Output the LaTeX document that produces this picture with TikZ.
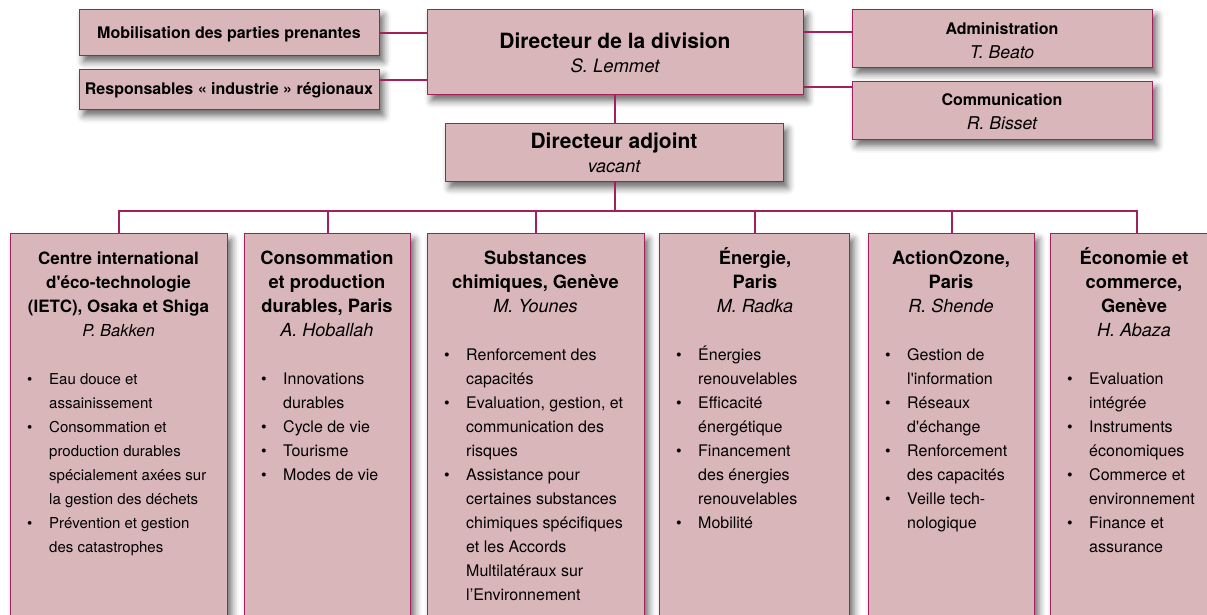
\documentclass[tikz,border=0pt]{standalone}
\usepackage{fontspec}
\setmainfont{TeX Gyre Heros}
\usetikzlibrary{shadows.blur}
\definecolor{boxfill}{HTML}{D9B6BA}
\definecolor{boxline}{HTML}{A3215A}
\tikzset{
  orgbox/.style={draw=boxline, line width=1.2pt, fill=boxfill, inner sep=0pt, anchor=north west,
    blur shadow={shadow xshift=4pt, shadow yshift=-6pt, shadow blur radius=7pt, shadow opacity=60}},
  conn/.style={draw=boxline, line width=2pt},
  txt/.style={inner sep=0pt, anchor=north},
  lst/.style={inner sep=0pt, anchor=north west},
  one/.style={inner sep=0pt, anchor=base},
}
\newcommand{\ttl}[1]{\fontsize{#1}{24}\selectfont}
\begin{document}
\begin{tikzpicture}[x=1pt,y=-1pt]
\useasboundingbox (0,0) rectangle (1207,615);
\begin{scope}
\clip (0,0) rectangle (1207,615);

% top boxes
\node[orgbox, minimum width=300pt, minimum height=46pt] (mob) at (79,9) {};
\node[orgbox, minimum width=300pt, minimum height=40pt] (resp) at (79,69) {};
\node[orgbox, minimum width=376pt, minimum height=85pt] (dir) at (427,9) {};
\node[orgbox, minimum width=338pt, minimum height=58pt] (adj) at (445,123) {};
\node[orgbox, minimum width=300pt, minimum height=58pt] (adm) at (852,9) {};
\node[orgbox, minimum width=300pt, minimum height=58pt] (com) at (852,81) {};

% bottom boxes
\node[orgbox, minimum width=217pt, minimum height=407pt] (c1) at (10,233) {};
\node[orgbox, minimum width=166pt, minimum height=407pt] (c2) at (244,233) {};
\node[orgbox, minimum width=217pt, minimum height=407pt] (c3) at (427,233) {};
\node[orgbox, minimum width=190pt, minimum height=407pt] (c4) at (659,233) {};
\node[orgbox, minimum width=166pt, minimum height=407pt] (c5) at (868,233) {};
\node[orgbox, minimum width=300pt, minimum height=407pt] (c6) at (1050,233) {};
\end{scope}

% connectors
\coordinate (yR) at (0,80);
\coordinate (yA) at (0,32);
\coordinate (yC) at (0,87);
\coordinate (bus) at (0,211);
\coordinate (c6top) at (1137,233);
\draw[conn] (mob.east) -- (mob.east -| dir.west);
\draw[conn] (resp.east |- yR) -- (dir.west |- yR);
\draw[conn] (dir.east |- yA) -- (adm.west |- yA);
\draw[conn] (dir.east |- yC) -- (com.west |- yC);
\draw[conn] (dir.south -| adj.north) -- (adj.north);
\draw[conn] (adj.south) -- (adj.south |- bus);
\draw[conn] (c1.north) -- (c1.north |- bus) -- (c6top |- bus) -- (c6top);
\draw[conn] (c2.north) -- (c2.north |- bus);
\draw[conn] (c3.north) -- (c3.north |- bus);
\draw[conn] (c4.north) -- (c4.north |- bus);
\draw[conn] (c5.north) -- (c5.north |- bus);

% top texts
\node[one] (mobT) at (229,39) {\fontsize{16}{19}\selectfont\bfseries Mobilisation des parties prenantes};
\node[one] (respT) at (229,95) {\fontsize{16}{19}\selectfont\bfseries Responsables « industrie » régionaux};
\node[txt] (dirT) at (615,31.2) {\ttl{21}\begin{tabular}{@{}c@{}}\bfseries Directeur de la division\\ \fontsize{18.4}{24}\selectfont\itshape S. Lemmet\end{tabular}};
\node[txt] (adjT) at (614,131.2) {\ttl{21}\begin{tabular}{@{}c@{}}\bfseries Directeur adjoint\\ \fontsize{18}{24}\selectfont\itshape vacant\end{tabular}};
\node[txt] (admT) at (1002,17.2) {\ttl{16}\begin{tabular}{@{}c@{}}\bfseries Administration\\ \fontsize{17.6}{24}\selectfont\itshape T. Beato\end{tabular}};
\node[txt] (comT) at (1002,88.2) {\ttl{16}\begin{tabular}{@{}c@{}}\bfseries Communication\\ \fontsize{17.6}{24}\selectfont\itshape R. Bisset\end{tabular}};

% column titles
\node[txt] (c1T) at (118.5,247.2) {\ttl{17}\begin{tabular}{@{}c@{}}\bfseries Centre international\\ \bfseries d\textquotesingle éco-technologie\\ \bfseries (IETC), Osaka et Shiga\\ \fontsize{16.5}{24}\selectfont\itshape P. Bakken\end{tabular}};
\node[txt] (c2T) at (327,247.2) {\ttl{18.3}\begin{tabular}{@{}c@{}}\bfseries Consommation\\ \bfseries et production\\ \bfseries durables, Paris\\ \fontsize{18}{24}\selectfont\itshape A. Hoballah\end{tabular}};
\node[txt] (c3T) at (535.5,247.2) {\ttl{18.3}\begin{tabular}{@{}c@{}}\bfseries Substances\\ \bfseries chimiques, Genève\\ \fontsize{18}{24}\selectfont\itshape M. Younes\end{tabular}};
\node[txt] (c4T) at (755,247.2) {\ttl{18.3}\begin{tabular}{@{}c@{}}\bfseries Énergie,\\ \bfseries Paris\\ \fontsize{18}{24}\selectfont\itshape M. Radka\end{tabular}};
\node[txt] (c5T) at (951,247.2) {\ttl{18.3}\begin{tabular}{@{}c@{}}\bfseries ActionOzone,\\ \bfseries Paris\\ \fontsize{18}{24}\selectfont\itshape R. Shende\end{tabular}};
\node[txt] (c6T) at (1134,247.2) {\ttl{18.3}\begin{tabular}{@{}c@{}}\bfseries Économie et\\ \bfseries commerce,\\ \bfseries Genève\\ \fontsize{18}{24}\selectfont\itshape H. Abaza\end{tabular}};

% bullet lists
\node[lst] (c1L) at (27,367.2) {\ttl{15}\begin{tabular}{@{}p{22pt}@{}l@{}}
\textbullet & Eau douce et\\ & assainissement\\
\textbullet & Consommation et\\ & production durables\\ & spécialement axées sur\\ & la gestion des déchets\\
\textbullet & Prévention et gestion\\ & des catastrophes\end{tabular}};
\node[lst] (c2L) at (261,367.2) {\ttl{16}\begin{tabular}{@{}p{22pt}@{}l@{}}
\textbullet & Innovations\\ & durables\\
\textbullet & Cycle de vie\\
\textbullet & Tourisme\\
\textbullet & Modes de vie\end{tabular}};
\node[lst] (c3L) at (444,343.2) {\ttl{16}\begin{tabular}{@{}p{22pt}@{}l@{}}
\textbullet & Renforcement des\\ & capacités\\
\textbullet & Evaluation, gestion, et\\ & communication des\\ & risques\\
\textbullet & Assistance pour\\ & certaines substances\\ & chimiques spécifiques\\ & et les Accords\\ & Multilatéraux sur\\ & l’Environnement\end{tabular}};
\node[lst] (c4L) at (676,343.2) {\ttl{16}\begin{tabular}{@{}p{22pt}@{}l@{}}
\textbullet & Énergies\\ & renouvelables\\
\textbullet & Efficacité\\ & énergétique\\
\textbullet & Financement\\ & des énergies\\ & renouvelables\\
\textbullet & Mobilité\end{tabular}};
\node[lst] (c5L) at (885,343.2) {\ttl{16}\begin{tabular}{@{}p{22pt}@{}l@{}}
\textbullet & Gestion de\\ & l\textquotesingle information\\
\textbullet & Réseaux\\ & d\textquotesingle échange\\
\textbullet & Renforcement\\ & des capacités\\
\textbullet & Veille tech-\\ & nologique\end{tabular}};
\node[lst] (c6L) at (1067,367.2) {\ttl{16}\begin{tabular}{@{}p{22pt}@{}l@{}}
\textbullet & Evaluation\\ & intégrée\\
\textbullet & Instruments\\ & économiques\\
\textbullet & Commerce et\\ & environnement\\
\textbullet & Finance et\\ & assurance\end{tabular}};
\end{tikzpicture}
\end{document}
